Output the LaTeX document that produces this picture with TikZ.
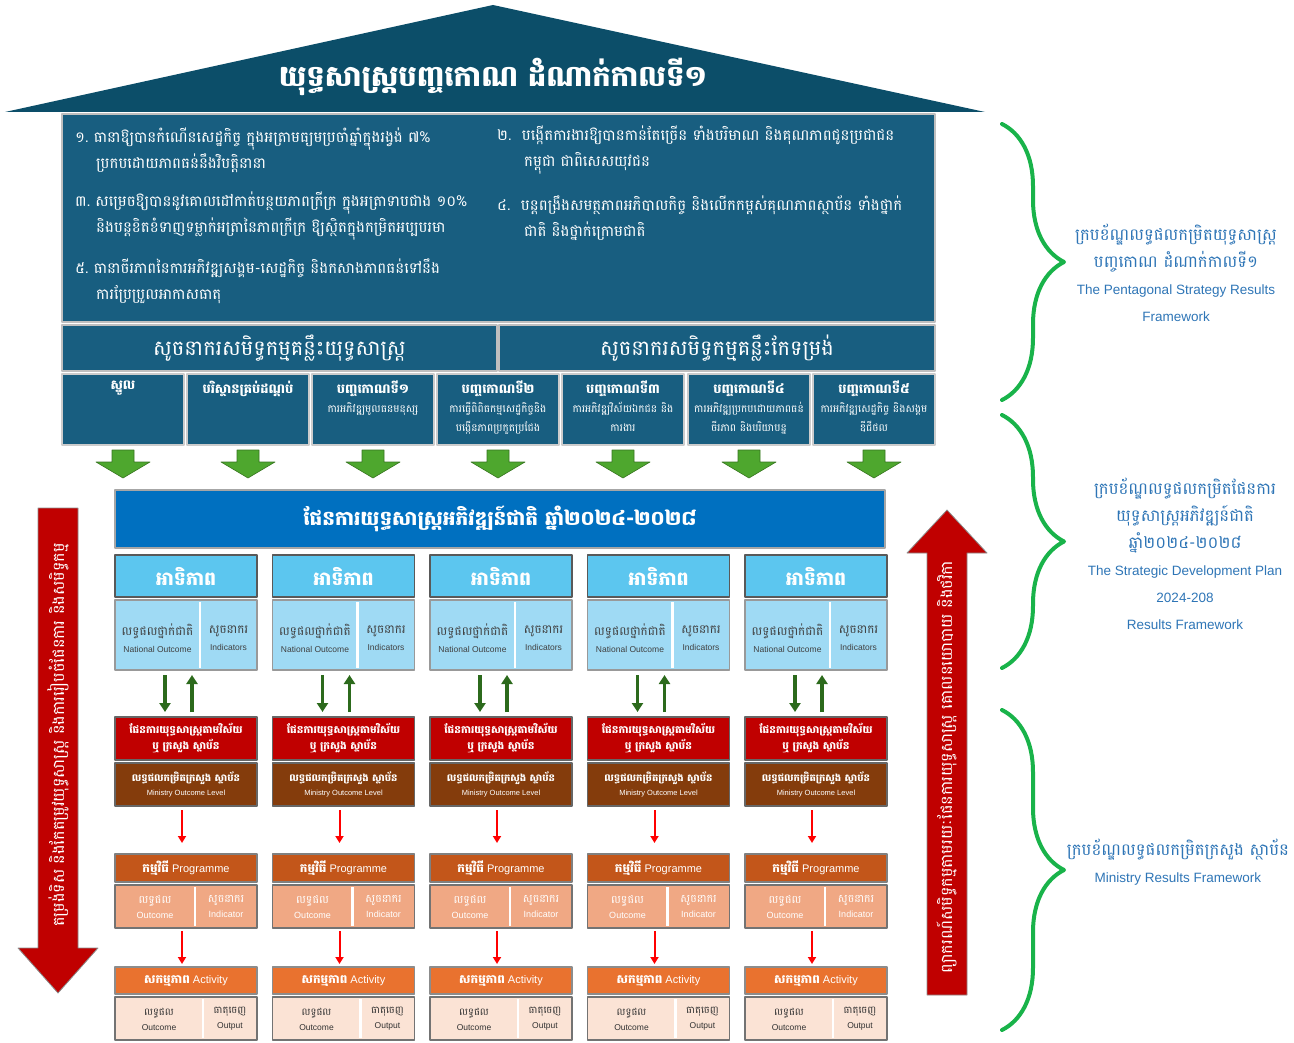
\documentclass[tikz,border=0pt]{standalone}
\usepackage{fontspec}
\setmainfont{Liberation Sans}
\newfontfamily\khmer[Script=Khmer]{Battambang}
\usetikzlibrary{arrows.meta}
\usetikzlibrary{decorations.pathreplacing}

\definecolor{roofblue}{HTML}{0C4E69}
\definecolor{goalblue}{HTML}{185E80}
\definecolor{plansblue}{HTML}{0070C0}
\definecolor{prioblue}{HTML}{5CC6EF}
\definecolor{natblue}{HTML}{9FDAF4}
\definecolor{sectred}{HTML}{C00000}
\definecolor{minbrown}{HTML}{843C0C}
\definecolor{progbrown}{HTML}{C3561A}
\definecolor{progsalmon}{HTML}{F0A884}
\definecolor{actorange}{HTML}{E9722F}
\definecolor{actpeach}{HTML}{FBE3D5}
\definecolor{pushgreen}{HTML}{4EA72E}
\definecolor{linkgreen}{HTML}{2C6A1C}
\definecolor{bracegreen}{HTML}{19B34A}
\definecolor{rfblue}{HTML}{2E75B6}

\newcommand{\kh}[1]{{\khmer #1}}
\newcommand{\khb}[1]{{\khmer\bfseries #1}}
\newcommand{\fs}[2]{\fontsize{#1}{#2}\selectfont}

\begin{document}
\begin{tikzpicture}[x=1pt,y=-1pt,line join=round,
  box/.style={anchor=north west,inner sep=0pt,outer sep=0pt,line width=1.2pt,align=center,text=white},
  goalbox/.style={box,fill=goalblue,draw=black!25},
  pillar/.style={box,fill=goalblue,draw=black!20,minimum width=122,minimum height=71},
  pillartxt/.style={anchor=north,align=center,text=white,inner sep=0pt,font=\khmer\fs{10.5}{19}},
  goaltxt/.style={anchor=west,align=left,text=white,inner sep=0pt,font=\khmer\fs{15}{26}},
  celltxt/.style={align=center,inner sep=0pt},
  bigarrow/.style={fill=sectred,draw=black!45,line width=0.8pt},
  pusharrow/.style={fill=pushgreen,draw=pushgreen!70!black,line width=0.6pt},
  linkdown/.style={linkgreen,line width=3.5pt,-{Triangle[length=9pt,width=11pt]}},
  linkup/.style={linkgreen,line width=3.5pt,-{Triangle[length=9pt,width=11pt]}},
  redlink/.style={red,line width=2pt,-{Triangle[length=7pt,width=8pt]}},
  rfbrace/.style={bracegreen,line width=4pt,line cap=round,decorate,decoration={brace,amplitude=62pt}},
  rflabel/.style={align=center,text=rfblue,font=\fs{13.5}{27}}]
\useasboundingbox (0,0) rectangle (1294,1043);

% roof
\fill[roofblue] (5,112) -- (493,5) -- (985,112) -- cycle;
\node[text=white,font=\khmer\bfseries\fs{29}{36}] (title) at (493,77) {យុទ្ធសាស្ត្របញ្ចកោណ ដំណាក់កាលទី១};

% five goals
\node[goalbox,minimum width=873,minimum height=208] (goals) at (62,114) {};
\node[goaltxt] (goal1) at (75,150) {១.\ ធានាឱ្យបានកំណើនសេដ្ឋកិច្ច ក្នុងអត្រាមធ្យមប្រចាំឆ្នាំក្នុងរង្វង់ ៧\%\\\hspace*{21pt}ប្រកបដោយភាពធន់នឹងវិបត្តិនានា};
\node[goaltxt] (goal3) at (75,216) {៣.\ សម្រេចឱ្យបាននូវគោលដៅកាត់បន្ថយភាពក្រីក្រ ក្នុងអត្រាទាបជាង ១០\%\\\hspace*{21pt}និងបន្តខិតខំទាញទម្លាក់អត្រានៃភាពក្រីក្រ ឱ្យស្ថិតក្នុងកម្រិតអប្បបរមា};
\node[goaltxt] (goal5) at (75,281) {៥.\ ធានាចីរភាពនៃការអភិវឌ្ឍសង្គម-សេដ្ឋកិច្ច និងកសាងភាពធន់ទៅនឹង\\\hspace*{21pt}ការប្រែប្រួលអាកាសធាតុ};
\node[goaltxt] (goal2) at (497,150) {២.\ \ បង្កើតការងារឱ្យបានកាន់តែច្រើន ទាំងបរិមាណ និងគុណភាពជូនប្រជាជន\\\hspace*{27pt}កម្ពុជា ជាពិសេសយុវជន};
\node[goaltxt] (goal4) at (497,218) {៤.\ \ បន្តពង្រឹងសមត្ថភាពអភិបាលកិច្ច និងលើកកម្ពស់គុណភាពស្ថាប័ន ទាំងថ្នាក់\\\hspace*{27pt}ជាតិ និងថ្នាក់ក្រោមជាតិ};

% key performance indicators
\node[goalbox,minimum width=435,minimum height=46,font=\khmer\fs{21}{26}] (kpistrat) at (62,325) {សូចនាករសមិទ្ធកម្មគន្លឹះយុទ្ធសាស្ត្រ};
\node[goalbox,minimum width=436,minimum height=46,font=\khmer\fs{21}{26}] (kpireform) at (499,325) {សូចនាករសមិទ្ធកម្មគន្លឹះកែទម្រង់};

\node[pillar] (core) at (62,374) {};
\node[pillar] (envt) at (187,374) {};
\node[pillar] (pent1) at (312,374) {};
\node[pillar] (pent2) at (437,374) {};
\node[pillar] (pent3) at (562,374) {};
\node[pillar] (pent4) at (688,374) {};
\node[pillar] (pent5) at (813,374) {};
\node[pillartxt] (corelbl) at ([yshift=-7pt]core.north) {{\bfseries\fs{13}{20}ស្នូល}};
\node[pillartxt] (envtlbl) at ([yshift=-7pt]envt.north) {{\bfseries\fs{13}{20}បរិស្ថានគ្រប់ដណ្តប់}};
\node[pillartxt] (pent1lbl) at ([yshift=-7pt]pent1.north) {{\bfseries\fs{13}{20}បញ្ចកោណទី១}\\ការអភិវឌ្ឍមូលធនមនុស្ស};
\node[pillartxt] (pent2lbl) at ([yshift=-7pt]pent2.north) {{\bfseries\fs{13}{20}បញ្ចកោណទី២}\\ការធ្វើពិពិធកម្មសេដ្ឋកិច្ចនិង\\បង្កើនភាពប្រកួតប្រជែង};
\node[pillartxt] (pent3lbl) at ([yshift=-7pt]pent3.north) {{\bfseries\fs{13}{20}បញ្ចកោណទី៣}\\ការអភិវឌ្ឍវិស័យឯកជន និង\\ការងារ};
\node[pillartxt] (pent4lbl) at ([yshift=-7pt]pent4.north) {{\bfseries\fs{13}{20}បញ្ចកោណទី៤}\\ការអភិវឌ្ឍប្រកបដោយភាពធន់\\ចីរភាព និងបរិយាបន្ន};
\node[pillartxt] (pent5lbl) at ([yshift=-7pt]pent5.north) {{\bfseries\fs{13}{20}បញ្ចកោណទី៥}\\ការអភិវឌ្ឍសេដ្ឋកិច្ច និងសង្គម\\ឌីជីថល};

\foreach \p in {core,envt,pent1,pent2,pent3,pent4,pent5}
  \draw[pusharrow] ([yshift=-5pt]\p.south) ++(-11,0) -- ++(22,0) -- ++(0,12) -- ++(16,0) -- ++(-27,16) -- ++(-27,-16) -- ++(16,0) -- cycle;

% national plan
\node[box,fill=plansblue,draw=black!35,minimum width=770,minimum height=58,font=\khmer\bfseries\fs{20}{26}] (sdp) at (115,490) {ផែនការយុទ្ធសាស្ត្រអភិវឌ្ឍន៍ជាតិ ឆ្នាំ២០២៤-២០២៨};

\foreach \i in {0,...,4}{
  \pgfmathsetmacro{\cx}{115+157.5*\i}
  \node[box,fill=prioblue,draw=black!65,minimum width=142,minimum height=42,font=\khmer\bfseries\fs{19}{22}] (prio\i) at (\cx,555) {អាទិភាព};
  \node[box,fill=natblue,draw=black!40,minimum width=142,minimum height=70] (nat\i) at (\cx,600) {};
  \draw[white,line width=2.5pt] (\cx+85,602) -- (\cx+85,668);
  \node[celltxt,text=black!75] (natoc\i) at (\cx+42.5,638) {\kh{\fs{12}{15}លទ្ធផលថ្នាក់ជាតិ}\\[5pt]{\fs{8.5}{10}National Outcome}};
  \node[celltxt,text=black!75] (natind\i) at (\cx+113.5,638) {\kh{\fs{12}{15}សូចនាករ}\\[5pt]{\fs{8.5}{10}Indicators}};
  \node[box,fill=sectred,draw=black!60,minimum width=142,minimum height=43,font=\khmer\bfseries\fs{10.5}{16}] (sec\i) at (\cx,717) {ផែនការយុទ្ធសាស្ត្រតាមវិស័យ\\ឬ ក្រសួង ស្ថាប័ន};
  \node[box,fill=minbrown,draw=black!60,minimum width=142,minimum height=43] (mol\i) at (\cx,763) {\kh{\bfseries\fs{10}{14}លទ្ធផលកម្រិតក្រសួង ស្ថាប័ន}\\[2pt]{\fs{7.5}{9}Ministry Outcome Level}};
  \node[box,fill=progbrown,draw=black!50,minimum width=142,minimum height=28,font=\fs{11}{13}] (prog\i) at (\cx,854) {\khb{\fs{12}{13}កម្មវិធី} Programme};
  \node[box,fill=progsalmon,draw=black!55,minimum width=142,minimum height=43] (pres\i) at (\cx,885) {};
  \draw[white,line width=2.5pt] (\cx+80,887) -- (\cx+80,926);
  \node[celltxt,text=white] (proc\i) at (\cx+40,907) {\kh{\fs{11}{14}លទ្ធផល}\\[3pt]{\fs{9}{11}Outcome}};
  \node[celltxt,text=white] (pind\i) at (\cx+111,907) {\kh{\fs{11}{14}សូចនាករ}\\[3pt]{\fs{9}{11}Indicator}};
  \node[box,fill=actorange,draw=black!45,minimum width=142,minimum height=27,font=\fs{11}{13}] (act\i) at (\cx,967) {\khb{\fs{12}{13}សកម្មភាព} Activity};
  \node[box,fill=actpeach,draw=black!55,minimum width=142,minimum height=43] (ares\i) at (\cx,997) {};
  \draw[white,line width=2.5pt] (\cx+88,999) -- (\cx+88,1038);
  \node[celltxt,text=black!80] (aoc\i) at (\cx+44,1019) {\kh{\fs{10}{13}លទ្ធផល}\\[3pt]{\fs{8.5}{10}Outcome}};
  \node[celltxt,text=black!80] (aput\i) at (\cx+115,1019) {\kh{\fs{10}{13}ធាតុចេញ}\\[3pt]{\fs{8.5}{10}Output}};
  \draw[linkdown] ([xshift=50pt,yshift=-5pt]nat\i.south west) -- ([xshift=50pt,yshift=5pt]sec\i.north west);
  \draw[linkup] ([xshift=77pt,yshift=5pt]sec\i.north west) -- ([xshift=77pt,yshift=-5pt]nat\i.south west);
  \draw[redlink] ([xshift=67pt,yshift=-4pt]mol\i.south west) -- ([xshift=67pt,yshift=11pt]prog\i.north west);
  \draw[redlink] ([xshift=67pt,yshift=-3pt]pres\i.south west) -- ([xshift=67pt,yshift=3pt]act\i.north west);
}

% big arrows
\draw[bigarrow] (38,508) -- (78,508) -- (78,948) -- (98,948) -- (58,993) -- (18,948) -- (38,948) -- cycle;
\node[rotate=90,text=white,font=\khmer\fs{16}{18}] (downtxt) at (58,735) {តម្រង់ទិស និងកែតម្រូវយុទ្ធសាស្ត្រ និងការរៀបចំផែនការ និងសមិទ្ធកម្ម};
\draw[bigarrow] (947,510) -- (987,553) -- (967,553) -- (967,995) -- (927,995) -- (927,553) -- (907,553) -- cycle;
\node[rotate=90,text=white,font=\khmer\fs{16}{18}] (uptxt) at (947,767) {ព្យាករណ៍សមិទ្ធកម្មតាមរយៈផែនការយុទ្ធសាស្ត្រ គោលនយោបាយ និងថវិកា};

% braces and frameworks
\draw[rfbrace] (1002,124) -- (1002,400);
\draw[rfbrace] (1002,415) -- (1002,668);
\draw[rfbrace] (1002,710) -- (1002,1030);
\node[rflabel] (rfpent) at (1176,273) {\kh{\fs{16.5}{27}ក្របខ័ណ្ឌលទ្ធផលកម្រិតយុទ្ធសាស្ត្រ}\\\kh{\fs{16.5}{27}បញ្ចកោណ ដំណាក់កាលទី១}\\The Pentagonal Strategy Results\\Framework};
\node[rflabel] (rfsdp) at (1185,554) {\kh{\fs{16.5}{28}ក្របខ័ណ្ឌលទ្ធផលកម្រិតផែនការ}\\\kh{\fs{16.5}{28}យុទ្ធសាស្ត្រអភិវឌ្ឍន៍ជាតិ}\\\kh{\fs{16.5}{28}ឆ្នាំ២០២៤-២០២៨}\\The Strategic Development Plan\\2024-208\\Results Framework};
\node[rflabel] (rfmin) at (1178,862) {\kh{\fs{16.5}{28}ក្របខ័ណ្ឌលទ្ធផលកម្រិតក្រសួង ស្ថាប័ន}\\Ministry Results Framework};
\end{tikzpicture}
\end{document}
